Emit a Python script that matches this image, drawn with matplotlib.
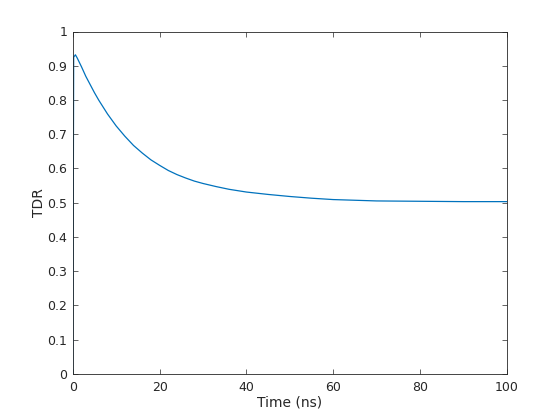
import matplotlib
matplotlib.use("Agg")
import matplotlib.pyplot as plt

# TDR response
time_ns = [0, 0.2, 0.6, 1, 2, 3, 4, 5, 6, 8, 10, 12, 14, 16, 18, 20, 22, 24, 26,
           28, 30, 33, 36, 40, 45, 50, 55, 60, 65, 70, 80, 90, 100]
tdr = [0, 0.925, 0.932, 0.923, 0.897, 0.869, 0.845, 0.821, 0.799, 0.759, 0.724,
       0.694, 0.667, 0.645, 0.625, 0.609, 0.594, 0.582, 0.572, 0.563, 0.556,
       0.547, 0.539, 0.531, 0.524, 0.518, 0.513, 0.509, 0.507, 0.505, 0.504,
       0.503, 0.503]

x_ticks = [0, 20, 40, 60, 80, 100]
y_ticks = [0, 0.1, 0.2, 0.3, 0.4, 0.5, 0.6, 0.7, 0.8, 0.9, 1]
y_labels = ["0", "0.1", "0.2", "0.3", "0.4", "0.5", "0.6", "0.7", "0.8", "0.9", "1"]

axis_col = "#262626"

fig = plt.figure(figsize=(5.6, 4.2), dpi=100)
ax = fig.add_axes([0.13, 0.11, 0.775, 0.815])
ax.plot(time_ns, tdr, color="#0072BD", linewidth=0.9)

ax.set_xlim(0, 100)
ax.set_ylim(0, 1)
ax.set_xticks(x_ticks)
ax.set_yticks(y_ticks)
ax.set_yticklabels(y_labels)
ax.tick_params(direction="in", top=True, right=True, length=3.5, width=0.5,
               colors=axis_col, labelsize=9)
ax.tick_params(axis="x", pad=5)
ax.tick_params(axis="y", pad=4)
for s in ax.spines.values():
    s.set_color(axis_col)
    s.set_linewidth(0.6)

ax.set_xlabel("Time (ns)", fontsize=10, color=axis_col, labelpad=1)
ax.set_ylabel("TDR", fontsize=10, color=axis_col, labelpad=1)

fig.savefig("out.png", dpi=100)
